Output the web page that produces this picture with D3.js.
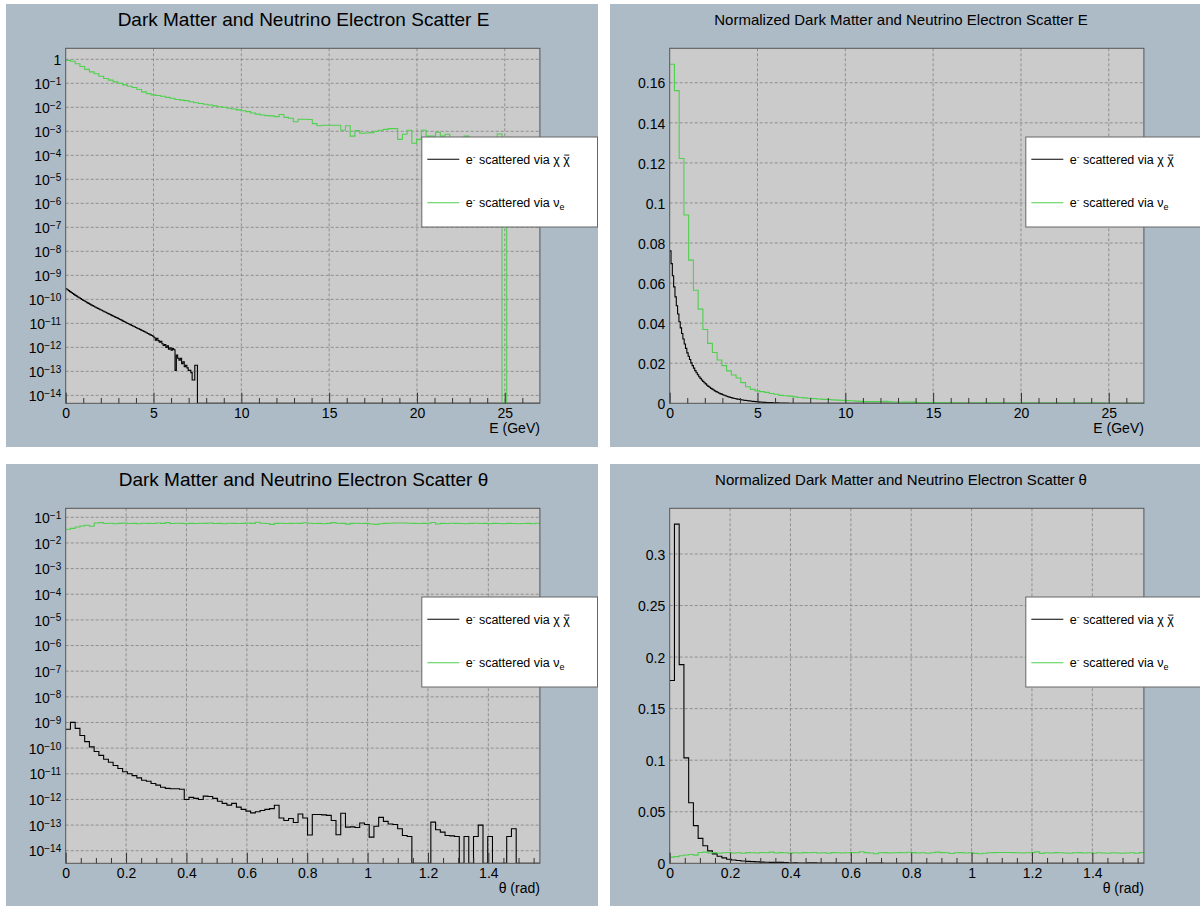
<!DOCTYPE html>
<html>
<head>
<meta charset="utf-8">
<script src="https://cdn.jsdelivr.net/npm/d3@7"></script>
<style>
  body { margin: 0; background: #fff; }
  svg text { font-family: "Liberation Sans", Arial, sans-serif; }
</style>
</head>
<body>
<svg id="chart" width="1200" height="906"></svg>
<script>
// histogram ranges and bin widths
const energyMax = 27
const thetaMax = Math.PI / 2
const nuEnergyBin = 0.27
const chiEnergyBin = 0.075
const thetaBin = thetaMax / 100

// e- scattered via nu_e, energy (100 bins, 0-27 GeV)
const nuEnergy = [
  0.90, 0.83, 0.65, 0.50, 0.38, 0.30, 0.25, 0.196, 0.159, 0.135,
  0.115, 0.100, 0.086, 0.075, 0.067, 0.055, 0.044, 0.037, 0.033, 0.031,
  0.029, 0.026, 0.024, 0.021, 0.020, 0.019, 0.017, 0.0155, 0.0145, 0.0135,
  0.0125, 0.0115, 0.0105, 0.0100, 0.0092, 0.0085, 0.0078, 0.0072, 0.0066, 0.0058,
  0.0052, 0.0048, 0.0045, 0.0044, 0.0041, 0.0050, 0.0038, 0.0035, 0.0025, 0.0032,
  0.0032, 0.0031, 0.0021, 0.0017, 0.0018, 0.0018, 0.0018, 0.0018, 0.0011, 0.0017,
  0.00063, 0.00107, 0.00083, 0.00085, 0.00088, 0.0010, 0.0011, 0.0012, 0.0013, 0.0013,
  0.00046, 0.00075, 0.0011, 0.00032, 0.00046, 0.0011, 0.00063, 0.00063, 0.00091, 0.00063,
  0.00075, 0.0005, 0.00055, 0.00048, 0.00063, 0.0005, 0.00045, 0.0005, 0.00052, 0.00048,
  0.00055, 0.00077, 0, 0.0003, 0.00025, 0.0003, 0.0002, 0.00025, 0.0002, 0.00015
]

// e- scattered via chi chibar, energy (100 bins, 0-7.5 GeV)
const chiEnergy = [
  2.75e-10, 2.52e-10, 2.30e-10, 2.10e-10, 1.92e-10, 1.76e-10, 1.61e-10, 1.47e-10, 1.36e-10, 1.26e-10,
  1.16e-10, 1.07e-10, 9.9e-11, 9.1e-11, 8.5e-11, 7.9e-11, 7.3e-11, 6.8e-11, 6.35e-11, 5.9e-11,
  5.5e-11, 5.15e-11, 4.8e-11, 4.5e-11, 4.2e-11, 3.95e-11, 3.7e-11, 3.5e-11, 3.25e-11, 3.05e-11,
  2.9e-11, 2.7e-11, 2.55e-11, 2.4e-11, 2.25e-11, 2.1e-11, 1.99e-11, 1.87e-11, 1.75e-11, 1.65e-11,
  1.55e-11, 1.45e-11, 1.36e-11, 1.27e-11, 1.19e-11, 1.11e-11, 1.04e-11, 9.8e-12, 9.2e-12, 8.65e-12,
  8.1e-12, 7.6e-12, 7.2e-12, 6.75e-12, 6.3e-12, 5.95e-12, 5.6e-12, 5.25e-12, 4.95e-12, 4.65e-12,
  4.35e-12, 4.07e-12, 3.8e-12, 3.55e-12, 3.3e-12, 3.1e-12, 2.9e-12, 2.5e-12, 2.0e-12, 2.4e-12,
  1.9e-12, 1.66e-12, 1.78e-12, 1.41e-12, 1.2e-12, 1.32e-12, 1.0e-12, 1.17e-12, 8.3e-13, 9.5e-13,
  7.6e-13, 8.9e-13, 7.9e-13, 1.1e-13, 4.8e-13, 3.5e-13, 2.95e-13, 3.5e-13, 2.1e-13, 2.5e-13,
  1.55e-13, 1.8e-13, 1.4e-13, 1.1e-13, 1.1e-13, 8.9e-14, 4.4e-14, 4.4e-14, 1.8e-13, 1.8e-13
]

// e- scattered via nu_e, angle (100 bins, 0-pi/2)
const nuTheta = [
  0.034, 0.037, 0.042, 0.046, 0.049, 0.045, 0.060, 0.062, 0.057, 0.059,
  0.056, 0.058, 0.060, 0.057, 0.058, 0.056, 0.059, 0.058, 0.057, 0.060,
  0.058, 0.062, 0.057, 0.059, 0.058, 0.056, 0.058, 0.057, 0.059, 0.058,
  0.060, 0.057, 0.058, 0.056, 0.059, 0.058, 0.057, 0.058, 0.060, 0.058,
  0.064, 0.059, 0.057, 0.053, 0.058, 0.059, 0.057, 0.058, 0.059, 0.058,
  0.061, 0.059, 0.057, 0.058, 0.056, 0.058, 0.062, 0.059, 0.058, 0.054,
  0.058, 0.059, 0.057, 0.058, 0.055, 0.053, 0.056, 0.058, 0.059, 0.060,
  0.060, 0.060, 0.059, 0.058, 0.057, 0.058, 0.059, 0.063, 0.055, 0.058,
  0.057, 0.059, 0.058, 0.057, 0.056, 0.058, 0.059, 0.057, 0.058, 0.056,
  0.058, 0.057, 0.056, 0.058, 0.057, 0.056, 0.057, 0.058, 0.056, 0.059
]

// e- scattered via chi chibar, angle (100 bins, 0-pi/2)
const chiTheta = [
  5.43e-10, 1.007e-9, 5.9e-10, 3.13e-10, 1.8e-10, 1.12e-10, 7.4e-11, 5.2e-11, 3.7e-11, 2.8e-11,
  2.1e-11, 1.6e-11, 1.2e-11, 1.0e-11, 8.5e-12, 6.9e-12, 5.6e-12, 5.1e-12, 4.2e-12, 3.6e-12,
  3.0e-12, 2.7e-12, 2.6e-12, 2.6e-12, 2.5e-12, 1.0e-12, 1.2e-12, 1.1e-12, 1.0e-12, 1.35e-12,
  1.3e-12, 1.1e-12, 8.5e-13, 7e-13, 6e-13, 7e-13, 5e-13, 4.1e-13, 3.5e-13, 3.0e-13,
  3.3e-13, 3.7e-13, 4.1e-13, 4.4e-13, 5.9e-13, 1.9e-13, 1.5e-13, 1.8e-13, 1.26e-13, 2.7e-13,
  1.9e-13, 4.1e-14, 2.6e-13, 2.6e-13, 2.5e-13, 2.4e-13, 1.5e-13, 4.2e-14, 2.9e-13, 8.3e-14,
  8.5e-14, 8e-14, 1.2e-13, 1.05e-13, 3.4e-14, 9e-14, 2e-13, 1.4e-13, 1.1e-13, 1.05e-13,
  7.2e-14, 3.9e-14, 3.6e-14, 0, 0, 0, 0, 1.3e-13, 6.6e-14, 5.3e-14,
  3.9e-14, 3.8e-14, 3.6e-14, 0, 3.6e-14, 0, 3.6e-14, 1e-13, 0, 3.6e-14,
  0, 0, 0, 3.6e-14, 7.2e-14, 0, 0, 0, 0, 0
]

// tick labels
const energyTicks = [0, 5, 10, 15, 20, 25]
const thetaTicks = [0, 0.2, 0.4, 0.6, 0.8, 1, 1.2, 1.4]
const energyDecades = [0, -1, -2, -3, -4, -5, -6, -7, -8, -9, -10, -11, -12, -13, -14]
const thetaDecades = [-1, -2, -3, -4, -5, -6, -7, -8, -9, -10, -11, -12, -13, -14]
const normEnergyTicks = [0, 0.02, 0.04, 0.06, 0.08, 0.1, 0.12, 0.14, 0.16]
const normThetaTicks = [0, 0.05, 0.1, 0.15, 0.2, 0.25, 0.3]

const titles = [
  "Dark Matter and Neutrino Electron Scatter E",
  "Normalized Dark Matter and Neutrino Electron Scatter E",
  "Dark Matter and Neutrino Electron Scatter \u03b8",
  "Normalized Dark Matter and Neutrino Electron Scatter \u03b8",
]

const padColor = "#adbbc6"
const frameColor = "#cbcbcb"
const gridColor = "#808080"
const green = "#4fd04f"

const padW = 592
const padH = 443
const frame = { left: 59.7, top: 44.3, width: 474.2, height: 355 }

const normalize = (values) => {
  const total = d3.sum(values)
  return values.map((v) => v / total)
}

const panels = [
  {
    id: 0, x: 6, y: 4, title: titles[0], titleSize: 19, titleX: 297.5, log: true,
    xMax: energyMax, xTicks: energyTicks, xMinor: 1, xTitle: "E (GeV)",
    yDomain: [Math.pow(10, -14.33), Math.pow(10, 0.458)], yTicks: energyDecades,
    series: [
      { values: chiEnergy, bin: chiEnergyBin, color: "#000" },
      { values: nuEnergy, bin: nuEnergyBin, color: green },
    ],
  },
  {
    id: 1, x: 610, y: 4, title: titles[1], titleSize: 15, titleX: 291, log: false,
    xMax: energyMax, xTicks: energyTicks, xMinor: 1, xTitle: "E (GeV)",
    yDomain: [0, 0.1772], yTicks: normEnergyTicks,
    series: [
      { values: normalize(chiEnergy), bin: chiEnergyBin, color: "#000" },
      { values: normalize(nuEnergy), bin: nuEnergyBin, color: green },
    ],
  },
  {
    id: 2, x: 6, y: 464, title: titles[2], titleSize: 19, titleX: 297.5, log: true,
    xMax: thetaMax, xTicks: thetaTicks, xMinor: 0.05, xTitle: "\u03b8 (rad)",
    yDomain: [Math.pow(10, -14.49), Math.pow(10, -0.649)], yTicks: thetaDecades,
    series: [
      { values: chiTheta, bin: thetaBin, color: "#000" },
      { values: nuTheta, bin: thetaBin, color: green },
    ],
  },
  {
    id: 3, x: 610, y: 464, title: titles[3], titleSize: 15, titleX: 291, log: false,
    xMax: thetaMax, xTicks: thetaTicks, xMinor: 0.05, xTitle: "\u03b8 (rad)",
    yDomain: [0, 0.3443], yTicks: normThetaTicks,
    series: [
      { values: normalize(chiTheta), bin: thetaBin, color: "#000" },
      { values: normalize(nuTheta), bin: thetaBin, color: green },
    ],
  },
]

const svg = d3.select("#chart")
svg.append("rect").attr("width", 1200).attr("height", 906).attr("fill", "#fff")

function histPath(s, x, y, xMax, floor) {
  const pts = s.values.map((v, i) => [x(i * s.bin), y(Math.max(v, floor))])
  const end = s.values.length * s.bin
  pts.push([x(end), pts[pts.length - 1][1]])
  if (end < xMax - 1e-9) {
    // empty bins up to the end of the axis
    pts.push([x(end), y(floor)])
    pts.push([x(xMax), y(floor)])
  }
  return d3.line().curve(d3.curveStepAfter)(pts)
}

function drawPanel(p) {
  const g = svg.append("g").attr("transform", `translate(${p.x},${p.y})`)
  const defs = g.append("defs")
  defs.append("clipPath").attr("id", `pad${p.id}`)
    .append("rect").attr("width", padW).attr("height", padH)
  defs.append("clipPath").attr("id", `frame${p.id}`)
    .append("rect")
    .attr("x", frame.left).attr("y", frame.top)
    .attr("width", frame.width).attr("height", frame.height)

  const pad = g.append("g").attr("clip-path", `url(#pad${p.id})`)
  pad.append("rect").attr("width", padW).attr("height", padH).attr("fill", padColor)

  const x = d3.scaleLinear()
    .domain([0, p.xMax])
    .range([frame.left, frame.left + frame.width])
  const y = (p.log ? d3.scaleLog() : d3.scaleLinear())
    .domain(p.yDomain)
    .range([frame.top + frame.height, frame.top])
  const yVals = p.log ? p.yTicks.map((d) => Math.pow(10, d)) : p.yTicks
  const floor = p.yDomain[0]

  pad.append("rect")
    .attr("x", frame.left).attr("y", frame.top)
    .attr("width", frame.width).attr("height", frame.height)
    .attr("fill", frameColor)

  // grid
  const grid = pad.append("g")
    .attr("stroke", gridColor)
    .attr("stroke-width", 0.8)
    .attr("stroke-dasharray", "3,2")
  grid.selectAll("line.gx")
    .data(p.xTicks.filter((d) => d > 0))
    .join("line")
    .attr("class", "gx")
    .attr("x1", (d) => x(d)).attr("x2", (d) => x(d))
    .attr("y1", frame.top).attr("y2", frame.top + frame.height)
  grid.selectAll("line.gy")
    .data(yVals.filter((d) => d > p.yDomain[0]))
    .join("line")
    .attr("class", "gy")
    .attr("x1", frame.left).attr("x2", frame.left + frame.width)
    .attr("y1", (d) => y(d)).attr("y2", (d) => y(d))

  // histograms
  const hists = pad.append("g").attr("clip-path", `url(#frame${p.id})`)
  p.series.forEach((s) => {
    hists.append("path")
      .attr("d", histPath(s, x, y, p.xMax, floor))
      .attr("fill", "none")
      .attr("stroke", s.color)
      .attr("stroke-width", 1.1)
  })

  pad.append("rect")
    .attr("x", frame.left).attr("y", frame.top)
    .attr("width", frame.width).attr("height", frame.height)
    .attr("fill", "none")
    .attr("stroke", "#555")
    .attr("stroke-width", 1)

  // x axis, ticks point into the frame
  const minor = d3.range(0, p.xMax, p.xMinor)
    .filter((v) => !p.xTicks.some((t) => Math.abs(t - v) < 1e-6))
  const xMinorAxis = pad.append("g")
    .attr("transform", `translate(0,${frame.top + frame.height})`)
    .call(d3.axisBottom(x).tickValues(minor).tickSize(-5.3).tickFormat(""))
  xMinorAxis.select(".domain").remove()
  const xAxis = pad.append("g")
    .attr("transform", `translate(0,${frame.top + frame.height})`)
    .call(d3.axisBottom(x).tickValues(p.xTicks).tickSize(-10.6).tickPadding(5)
      .tickFormat((d) => String(d)))
  xAxis.select(".domain").remove()
  pad.selectAll(".tick line").attr("stroke", "#333")
  xAxis.selectAll("text").attr("font-size", 14).attr("fill", "#000")
    .attr("font-family", null)

  // y axis labels
  const yAxis = pad.append("g")
    .attr("transform", `translate(${frame.left},0)`)
    .call(d3.axisLeft(y).tickValues(yVals).tickSize(0).tickPadding(4.5)
      .tickFormat((d) => String(d)))
  yAxis.select(".domain").remove()
  yAxis.selectAll("text").attr("font-size", 14).attr("fill", "#000")
    .attr("font-family", null).attr("dy", "0.37em")
  if (p.log) {
    yAxis.selectAll("text").each(function (d) {
      const e = Math.round(Math.log10(d))
      const t = d3.select(this).text("")
      if (e === 0) {
        t.text("1")
      } else {
        t.append("tspan").text("10")
        t.append("tspan").attr("dy", "-0.42em").attr("font-size", 10)
          .text("\u2212" + Math.abs(e))
      }
    })
  }

  // axis title
  pad.append("text")
    .attr("x", frame.left + frame.width)
    .attr("y", frame.top + frame.height + 29.2)
    .attr("text-anchor", "end")
    .attr("font-size", 14)
    .text(p.xTitle)

  // pad title
  pad.append("text")
    .attr("x", p.titleX)
    .attr("y", p.titleSize > 16 ? 22 : 21)
    .attr("text-anchor", "middle")
    .attr("font-size", p.titleSize)
    .text(p.title)

  // legend
  const lg = pad.append("g").attr("transform", "translate(415.8,133)")
  lg.append("rect")
    .attr("width", padW - 415.8 - 0.5).attr("height", 90)
    .attr("fill", "#fff").attr("stroke", "#666").attr("stroke-width", 1)
  const entries = [
    { color: "#000", y: 22.3, label: "chi" },
    { color: green, y: 65.7, label: "nu" },
  ]
  entries.forEach((en) => {
    lg.append("line")
      .attr("x1", 5.5).attr("x2", 37.5)
      .attr("y1", en.y).attr("y2", en.y)
      .attr("stroke", en.color).attr("stroke-width", 1.1)
    const t = lg.append("text")
      .attr("x", 44)
      .attr("y", en.y + 4.5)
      .attr("font-size", 12.5)
    t.append("tspan").text("e")
    t.append("tspan").attr("dy", -5).attr("font-size", 8).text("-")
    t.append("tspan").attr("dy", 5).text(" scattered via ")
    if (en.label === "chi") {
      t.append("tspan").text("\u03c7 \u03c7")
      // bar over the second chi
      const node = t.node()
      const last = node.getNumberOfChars() - 1
      const a = node.getStartPositionOfChar(last)
      const b = node.getEndPositionOfChar(last)
      lg.append("line")
        .attr("x1", a.x + 1).attr("x2", b.x - 0.5)
        .attr("y1", en.y - 4.2).attr("y2", en.y - 4.2)
        .attr("stroke", "#000").attr("stroke-width", 0.9)
    } else {
      t.append("tspan").text("\u03bd")
      t.append("tspan").attr("dy", 3).attr("font-size", 9).text("e")
    }
  })
}

panels.forEach((p) => drawPanel(p))
</script>
</body>
</html>
